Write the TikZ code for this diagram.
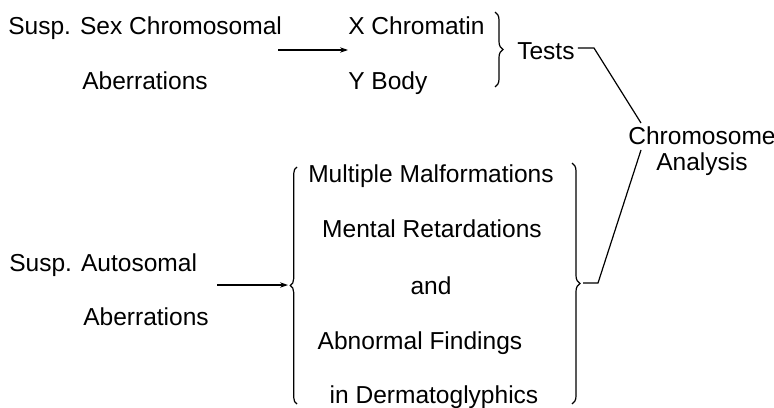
\documentclass[tikz,border=0pt]{standalone}
\usepackage{fontspec}
\setmainfont{Liberation Sans}
\usetikzlibrary{arrows.meta, positioning, calc, decorations.pathreplacing}
\tikzset{
  >=Stealth,
  flowarrow/.style={-{Stealth[length=2.1mm, width=1.4mm]}, line width=0.8pt, black},
  linkline/.style={line width=0.9pt, black},
  bracket/.style={line width=0.9pt, decorate, decoration={brace, amplitude=#1}},
  bracket/.default=5pt,
  lbl/.style={font=\fontsize{18.4}{19.5}\selectfont, inner sep=0pt, anchor=base west},
  lblc/.style={lbl, anchor=base}
}

\begin{document}
\begin{tikzpicture}[x=0.75pt, y=-0.75pt]
    \useasboundingbox (0,0) rectangle (774,407);

    % --- SEX CHROMOSOMAL ---
    \node[lbl] (sexsusp) at (8,34) {Susp. Sex Chromosomal};
    \node[lbl] (sexab) at (82,89) {Aberrations};
    \node[lbl] (xchr) at (348,34) {X Chromatin};
    \node[lbl] (ybody) at (348,89) {Y Body};
    \coordinate (sexarr) at (278,50);
    \draw[flowarrow] (sexarr) -- (xchr.west |- sexarr);

    % Brace to Tests
    \coordinate (ubtop) at (495,12);
    \coordinate (ubbot) at (495,87);
    \draw[bracket=6pt] (ubtop) -- (ubbot);
    \node[lbl] (tests) at (517,59) {Tests};

    % --- CHROMOSOME ANALYSIS ---
    \node[font=\fontsize{18.4}{19.5}\selectfont, inner sep=0pt, align=center] (chromo) at (702,151) {Chromosome\\Analysis};
    \coordinate (ctop) at (641,123);
    \coordinate (cbot) at (641,150);
    \draw[linkline] (tests.east |- 0,48) ++(3,0) -- (594,48) -- (ctop);

    % --- AUTOSOMAL ---
    \node[lbl] (autsusp) at (9,271) {Susp. Autosomal};
    \node[lbl] (autab) at (83,325) {Aberrations};
    \coordinate (autarr) at (217,285);
    \coordinate (lbtip) at (288,285);
    \draw[flowarrow] (autarr) -- (lbtip);

    % Findings list
    \draw[bracket=5pt] (297,404) -- (297,167);
    \node[lblc] (multi) at (431,182) {Multiple Malformations};
    \node[lblc] (mental) at (432,237) {Mental Retardations};
    \node[lblc] (andtxt) at (431,294) {and};
    \node[lblc] (abnorm) at (420,349) {Abnormal Findings};
    \node[lblc] (dermato) at (434,403) {in Dermatoglyphics};
    \draw[bracket=6pt] (572,163) -- (572,404);

    % Link to analysis
    \coordinate (rbtip) at (583,283);
    \draw[linkline] (rbtip) -- (598,283) -- (cbot);
\end{tikzpicture}
\end{document}
